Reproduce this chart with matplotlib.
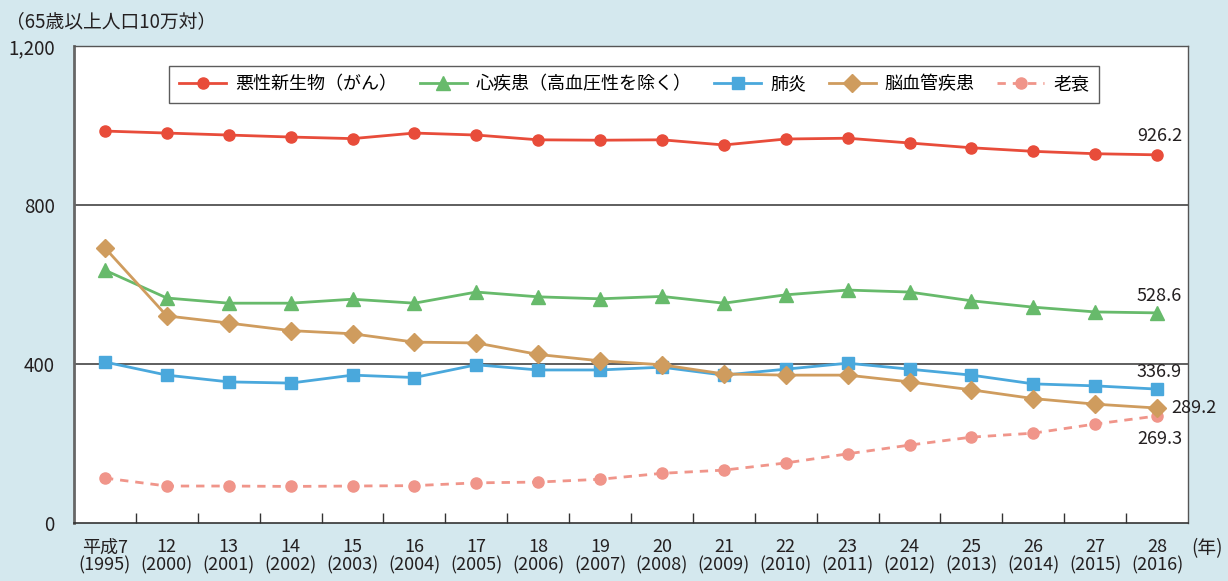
import matplotlib
matplotlib.use("Agg")
import matplotlib.pyplot as plt
import numpy as np

plt.rcParams['font.family'] = ['Noto Sans CJK JP', 'DejaVu Sans']

# Data: death rates per 100,000 population aged 65+
era_labels = ["平成7", "12", "13", "14", "15", "16", "17", "18", "19", "20",
              "21", "22", "23", "24", "25", "26", "27", "28"]
years = ["1995", "2000", "2001", "2002", "2003", "2004", "2005", "2006", "2007",
         "2008", "2009", "2010", "2011", "2012", "2013", "2014", "2015", "2016"]

cancer = [986, 981, 976, 971, 967, 981, 976, 964, 963, 964, 951, 966, 968, 956,
          944, 935, 929, 926.2]
heart = [636, 566, 553, 553, 563, 553, 581, 569, 564, 570, 553, 574, 586, 581,
         559, 543, 531, 528.6]
pneumonia = [405, 372, 355, 352, 372, 366, 398, 385, 385, 392, 372, 387, 402, 387,
             372, 350, 345, 336.9]
stroke = [692, 521, 503, 484, 476, 455, 453, 424, 408, 398, 375, 372, 372, 355,
          335, 313, 299, 289.2]
senility = [113, 93, 93, 92, 93, 94, 101, 103, 110, 125, 133, 151, 174, 196,
            216, 226, 249, 269.3]

series_names = ["悪性新生物（がん）", "心疾患（高血圧性を除く）", "肺炎", "脳血管疾患", "老衰"]
colors = ["#e84c3a", "#67ba6b", "#4aa8dc", "#cf9c5e", "#f0958a"]

bg = "#d4e8ee"
fig = plt.figure(figsize=(12.28, 5.81), dpi=100, facecolor=bg)
ax = fig.add_axes([74 / 1228, 58 / 581, (1188 - 74) / 1228, (523 - 46) / 581])
ax.set_facecolor("white")

x = np.arange(len(years))

ax.plot(x, cancer, color=colors[0], lw=2, marker="o", ms=8, label=series_names[0], zorder=4)
ax.plot(x, heart, color=colors[1], lw=2, marker="^", ms=10, label=series_names[1], zorder=4)
ax.plot(x, pneumonia, color=colors[2], lw=2, marker="s", ms=9, label=series_names[2], zorder=4)
ax.plot(x, stroke, color=colors[3], lw=2, marker="D", ms=9, label=series_names[3], zorder=5)
ax.plot(x, senility, color=colors[4], lw=2, ls=(0, (3, 2.5)), marker="o", ms=8,
        label=series_names[4], zorder=4)

ax.set_xlim(-0.5, len(years) - 0.5)
ax.set_ylim(0, 1200)

# Horizontal reference lines
for yv in (400, 800):
    ax.axhline(yv, color="#333333", lw=1.1, zorder=1)

# Y axis labels
ax.set_yticks([0, 400, 800, 1200])
ax.set_yticklabels(["0", "400", "800", "1,200"], fontsize=13.5, color="#231f20")
ax.tick_params(axis="y", length=0, pad=14)

# X ticks between categories, labels centered on points
ax.set_xticks(np.arange(len(years) - 1) + 0.5)
ax.set_xticklabels([])
ax.tick_params(axis="x", direction="in", length=7, color="#333333", width=1)
ax.set_xticks(x, minor=True)
ax.set_xticklabels([f"{e}\n({y})" for e, y in zip(era_labels, years)], minor=True,
                   fontsize=13, color="#231f20", linespacing=1.0)
ax.tick_params(axis="x", which="minor", length=0, pad=11)

for side in ("top", "right"):
    ax.spines[side].set_color("#555555")
    ax.spines[side].set_linewidth(1)
ax.spines["left"].set_color("#666666")
ax.spines["left"].set_linewidth(2)
ax.spines["bottom"].set_color("#333333")
ax.spines["bottom"].set_linewidth(1.2)

# End-value annotations
last = len(years) - 1
fs_val = 13
ax.annotate(f"{cancer[-1]:.1f}", (last, cancer[-1]), xytext=(18, 7), textcoords="offset points",
            ha="right", va="bottom", fontsize=fs_val, color="#231f20")
ax.annotate(f"{heart[-1]:.1f}", (last, heart[-1]), xytext=(18, 6), textcoords="offset points",
            ha="right", va="bottom", fontsize=fs_val, color="#231f20")
ax.annotate(f"{pneumonia[-1]:.1f}", (last, pneumonia[-1]), xytext=(18, 6), textcoords="offset points",
            ha="right", va="bottom", fontsize=fs_val, color="#231f20")
ax.annotate(f"{stroke[-1]:.1f}", (last, stroke[-1]), xytext=(10, 0), textcoords="offset points",
            ha="left", va="center", fontsize=fs_val, color="#231f20", annotation_clip=False)
ax.annotate(f"{senility[-1]:.1f}", (last, senility[-1]), xytext=(18, -10), textcoords="offset points",
            ha="right", va="top", fontsize=fs_val, color="#231f20")

# Legend
leg = ax.legend(loc="upper center", bbox_to_anchor=(0.503, 0.978), ncol=5, frameon=True,
                fancybox=False, edgecolor="#333333", fontsize=13, handlelength=2.6,
                columnspacing=1.25, handletextpad=0.5, borderpad=0.55)
leg.get_frame().set_linewidth(1)

# Axis captions
fig.text(6 / 1228, 1 - 22 / 581, "（65歳以上人口10万対）", fontsize=13.5, color="#231f20",
         ha="left", va="center")
fig.text(1191 / 1228, 1 - 549 / 581, "(年)", fontsize=13.5, color="#231f20",
         ha="left", va="center")

fig.savefig("out.png", dpi=100, facecolor=bg)
